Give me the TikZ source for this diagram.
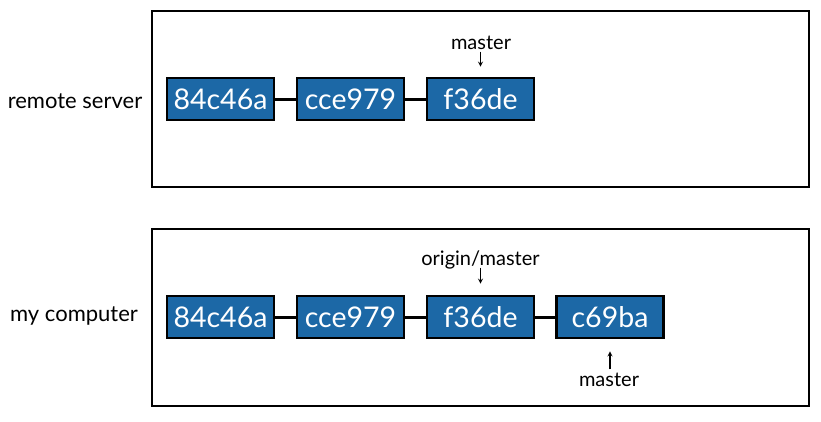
\documentclass[tikz,border=0pt]{standalone}
\usepackage{fontspec}
\setmainfont{Lato}
\usetikzlibrary{arrows,positioning}
\definecolor{commitblue}{RGB}{28,104,166}

\begin{document}
\begin{tikzpicture}[x=1pt,y=-1pt]
		\useasboundingbox (0,0) rectangle (821,421);
		\tikzstyle{FrameStyle}=[draw=black,line width=1.2pt,minimum width=657pt,inner sep=0pt]
		\tikzstyle{CommitStyle}=[draw=black,line width=2.8pt,fill=commitblue,text=white,minimum width=107pt,minimum height=42pt,inner sep=0pt,font=\fontsize{28.5}{28.5}\selectfont]
		\tikzstyle{LabelStyle}=[font=\fontsize{22}{22}\selectfont]
		\tikzstyle{RefStyle}=[font=\fontsize{20}{20}\selectfont]
		\tikzstyle{EdgeStyle}=[line width=3pt]
		\tikzstyle{PointerStyle}=[-stealth,line width=1.2pt]
		% frames
		\node[FrameStyle,minimum height=176pt] (remote) at (480.5,99) {};
		\node[FrameStyle,minimum height=177pt] (local) at (480.5,317.5) {};
		\node[LabelStyle] (remotelabel) at (75,101) {remote server};
		\node[LabelStyle] (locallabel) at (74,316) {my computer};
		% remote server
		\node[CommitStyle] (R1) at (220.5,99) {84c46a};
		\node[CommitStyle] (R2) at (350.5,99) {cce979};
		\node[CommitStyle] (R3) at (480.5,99) {f36de};
		\node[RefStyle] (Rmaster) at (481,43) {master};
		% my computer
		\node[CommitStyle] (L1) at (220.5,317) {84c46a};
		\node[CommitStyle] (L2) at (350.5,317) {cce979};
		\node[CommitStyle] (L3) at (480.5,317) {f36de};
		\node[CommitStyle] (L4) at (610,317) {c69ba};
		\node[RefStyle] (Lorigin) at (480.5,260) {origin/master};
		\node[RefStyle] (Lmaster) at (609,380) {master};
		% edges
		\draw[EdgeStyle] (R1) -- (R2);
		\draw[EdgeStyle] (R2) -- (R3);
		\draw[EdgeStyle] (L1) -- (L2);
		\draw[EdgeStyle] (L2) -- (L3);
		\draw[EdgeStyle] (L3) -- (L4);
		% pointers
		\draw[PointerStyle] ([yshift=25pt]R3.north) -- ([yshift=10pt]R3.north);
		\draw[PointerStyle] ([yshift=27pt]L3.north) -- ([yshift=11pt]L3.north);
		\draw[PointerStyle] ([yshift=-30pt]L4.south) -- ([yshift=-12pt]L4.south);
	\end{tikzpicture}
\end{document}
